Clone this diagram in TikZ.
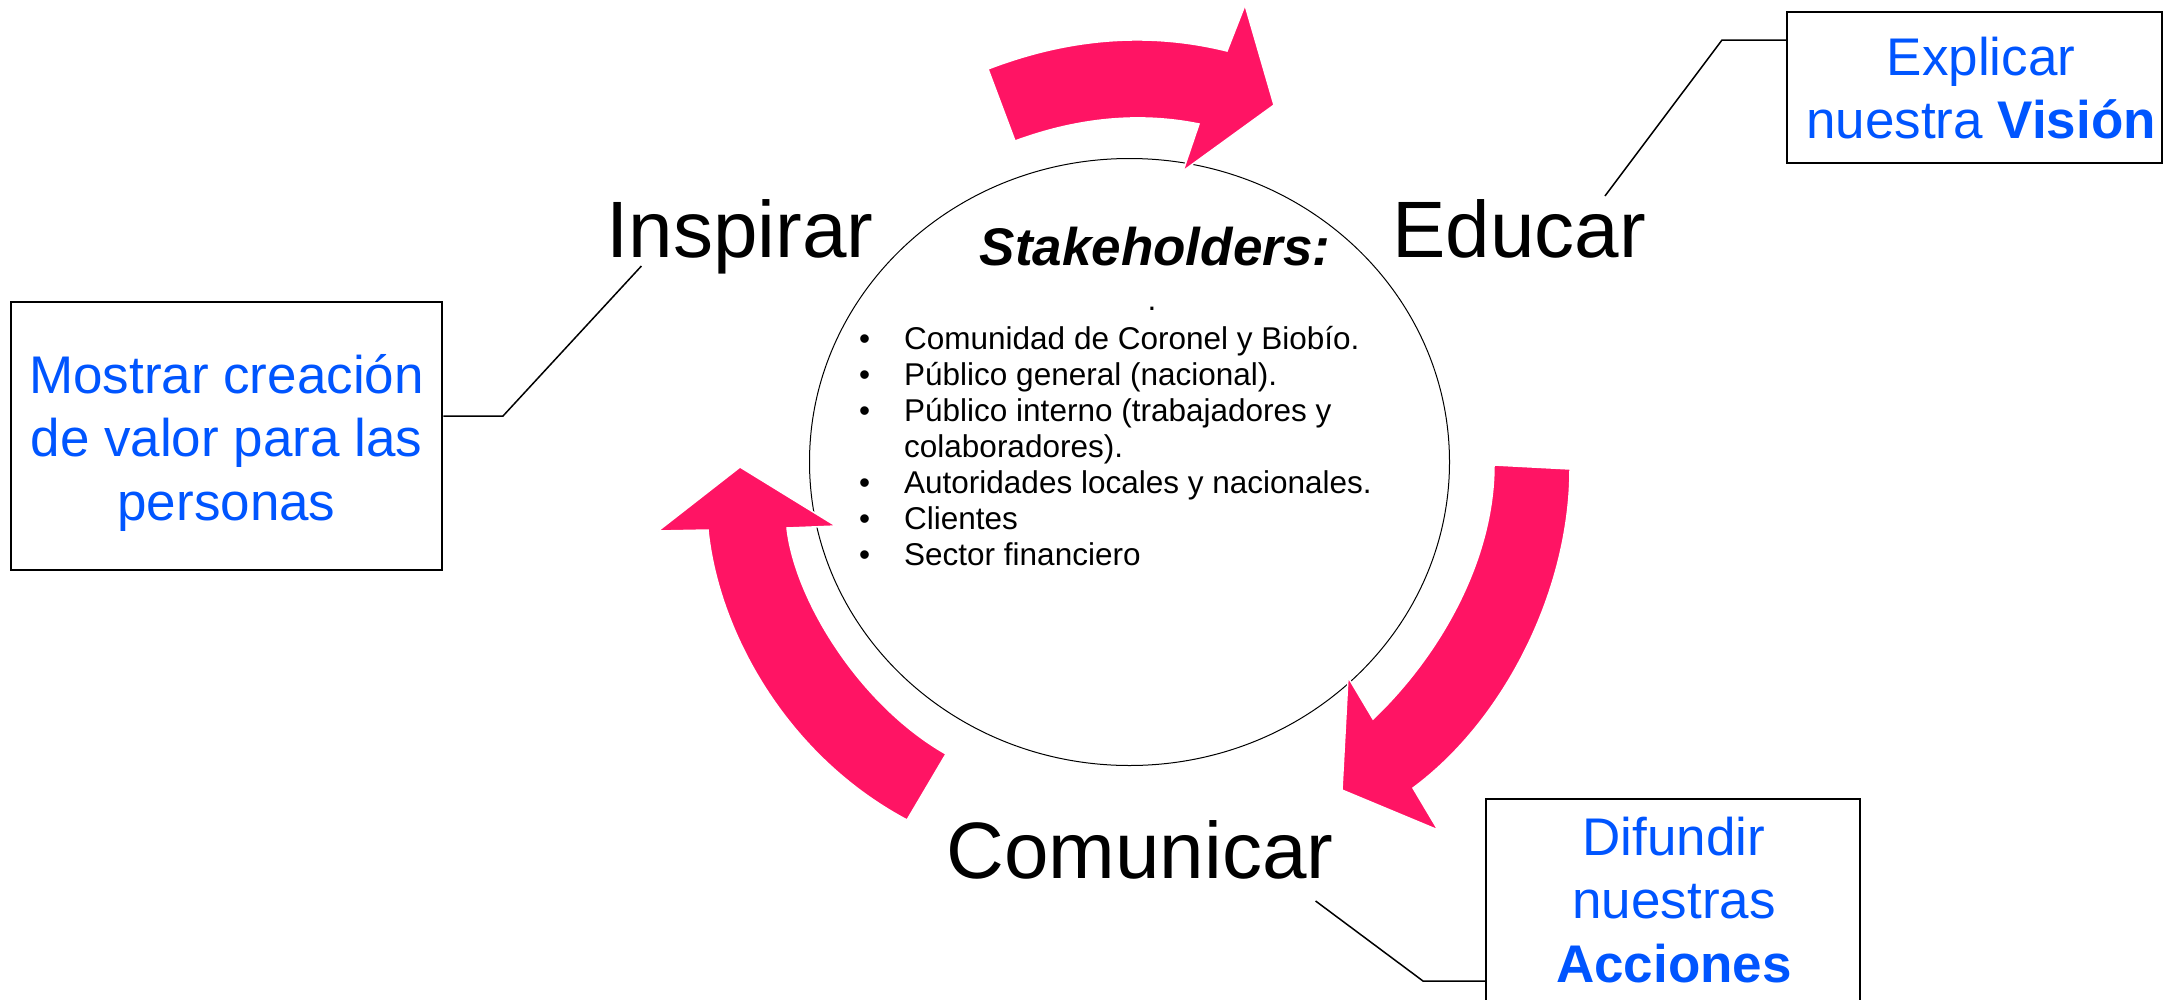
\documentclass[tikz,border=0pt]{standalone}
\usepackage{fontspec}
\setmainfont{Liberation Sans}
\usetikzlibrary{shapes.geometric,calc}
\definecolor{arrowpink}{RGB}{255,20,100}
\definecolor{lblblue}{RGB}{0,85,255}
\begin{document}
\begin{tikzpicture}[x=1pt,y=-1pt,
  cyclearrow/.style={fill=arrowpink, draw=white, line width=1.5pt},
  stage/.style={inner sep=0pt, font=\fontsize{80}{96}\selectfont},
  lblbox/.style={draw=black, line width=2.5pt, inner sep=0pt},
  lbltext/.style={inner sep=0pt, text=lblblue, font=\fontsize{53}{63.5}\selectfont},
  conn/.style={draw=black, line width=1.5pt}]
\useasboundingbox[fill=white] (0,0) rectangle (2164,999);

% central ellipse
\node[draw=black, line width=1pt, ellipse, inner sep=0pt, minimum width=640pt, minimum height=607pt] (stk) at (1129.5,462) {};

% cycle arrows
\path[cyclearrow] (988,69) .. controls (1069.3,37.7) and (1149,31.7) .. (1227,51) -- (1245,5) -- (1274,105) -- (1183,171) -- (1199,124) .. controls (1139.7,112) and (1078.3,117.7) .. (1015,141) -- cycle;
\path[cyclearrow] (1494,465) -- (1570,469) .. controls (1570,590) and (1505,720) .. (1413,788) -- (1438,830) -- (1342,790) -- (1348,677) -- (1373,719) .. controls (1440,655) and (1494,560) .. (1494,465) -- cycle;
\path[cyclearrow] (740,467) -- (836,526) -- (787,528) .. controls (795,600) and (860,705) .. (946,754) -- (907,820) .. controls (785,755) and (718,630) .. (708,530) -- (658,531) -- cycle;

% stakeholders text
\node[inner sep=0pt, anchor=base, font=\fontsize{53}{64}\selectfont\bfseries\itshape] (sttl) at (1155,265) {Stakeholders:};
\node[inner sep=0pt, anchor=base, font=\fontsize{31.5}{36}\selectfont] (sdot) at (1152,310) {.};
\node[inner sep=0pt, anchor=base west, font=\fontsize{31.5}{36}\selectfont] (slist) at (859,349) {\begin{tabular}[t]{@{}p{45pt}@{}l@{}}
•& Comunidad de Coronel y Biobío.\\
•& Público general (nacional).\\
•& Público interno (trabajadores y\\
 & colaboradores).\\
•& Autoridades locales y nacionales.\\
•& Clientes\\
•& Sector financiero
\end{tabular}};

% stage words
\node[stage, anchor=base] (insp) at (740,257) {Inspirar};
\node[stage, anchor=base] (educ) at (1519,257) {Educar};
\node[stage, anchor=base] (comu) at (1140,878) {Comunicar};

% label boxes
\node[lblbox, minimum width=431pt, minimum height=268pt] (lbox) at (226.5,436) {};
\node[lbltext, anchor=base] (ltxt) at (226.5,393) {\begin{tabular}[t]{@{}c@{}}Mostrar creación\\de valor para las\\personas\end{tabular}};

\node[lblbox, minimum width=375pt, minimum height=151pt] (tbox) at (1974.5,87.5) {};
\node[lbltext, anchor=base] (ttxt) at (1981,75) {\begin{tabular}[t]{@{}c@{}}Explicar\\nuestra \textbf{Visión}\end{tabular}};

\node[lblbox, minimum width=374pt, minimum height=221pt] (bbox) at (1673,909.5) {};
\node[lbltext, anchor=base] (btxt) at (1674,855) {\begin{tabular}[t]{@{}c@{}}Difundir\\nuestras\\\textbf{Acciones}\end{tabular}};

% connectors
\coordinate (k1) at (503,416);
\draw[conn] ($(insp.base west)+(35,9)$) -- (k1) -- (k1 -| lbox.east);
\coordinate (k2) at (1722,40);
\draw[conn] ($(educ.base east)+(-41,-61)$) -- (k2) -- (k2 -| tbox.west);
\coordinate (k3) at (1423,981);
\draw[conn] ($(comu.base east)+(-18,23)$) -- (k3) -- (k3 -| bbox.west);
\end{tikzpicture}
\end{document}
